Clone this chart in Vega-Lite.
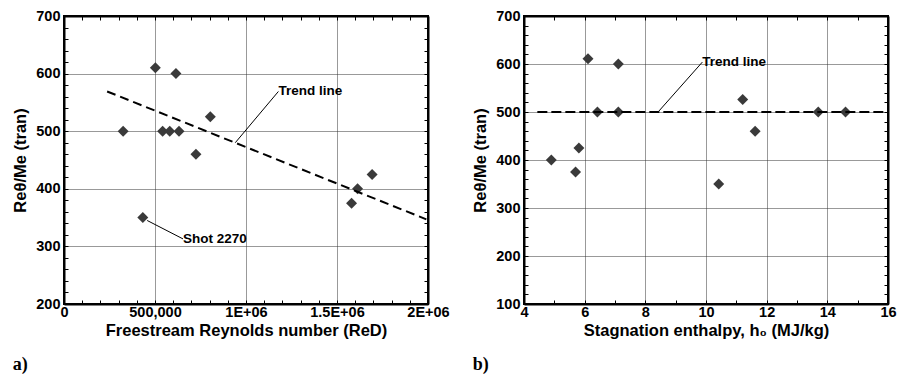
{
  "$schema": "https://vega.github.io/schema/vega-lite/v6.json",
  "padding": {"left": 11, "top": 7, "right": 5, "bottom": 0},
  "spacing": 20,
  "background": "white",
  "config": {
    "view": {"stroke": "black", "strokeWidth": 2},
    "font": "Liberation Sans",
    "axis": {
      "labelFont": "Liberation Sans", "labelFontWeight": "bold", "labelFontSize": 14.5, "labelColor": "black",
      "titleFont": "Liberation Sans", "titleFontWeight": "bold", "titleFontSize": 16.5, "titleColor": "black",
      "domainColor": "black", "domainWidth": 2, "tickColor": "black", "tickWidth": 1, "tickSize": -4,
      "gridColor": "#333", "gridDash": [1, 1], "gridWidth": 1, "labelOverlap": false, "labelFlush": false
    },
    "title": {"font": "Liberation Serif", "fontWeight": "bold", "fontSize": 18, "color": "black"}
  },
  "datasets": {
    "a_pts": [
      {"re": 325000, "v": 500}, {"re": 502000, "v": 610}, {"re": 615000, "v": 600},
      {"re": 542000, "v": 500}, {"re": 581000, "v": 500}, {"re": 632000, "v": 500},
      {"re": 725000, "v": 460}, {"re": 804000, "v": 525}, {"re": 433000, "v": 350},
      {"re": 1580000, "v": 375}, {"re": 1613000, "v": 400}, {"re": 1693000, "v": 425}
    ],
    "a_trend": [{"re": 237000, "v": 569}, {"re": 1991000, "v": 347}],
    "a_notes": [
      {"x": 941000, "y": 480, "x2": 1178000, "y2": 569, "label": "Trend line"},
      {"x": 457000, "y": 345, "x2": 654000, "y2": 313, "label": "Shot 2270"}
    ],
    "b_pts": [
      {"h": 4.9, "v": 400}, {"h": 5.7, "v": 375}, {"h": 5.81, "v": 425}, {"h": 6.11, "v": 611},
      {"h": 6.42, "v": 500}, {"h": 7.11, "v": 600}, {"h": 7.11, "v": 500}, {"h": 10.42, "v": 350},
      {"h": 11.21, "v": 526}, {"h": 11.62, "v": 460}, {"h": 13.7, "v": 500}, {"h": 14.6, "v": 500}
    ],
    "b_trend": [{"h": 4.44, "v": 500}, {"h": 16, "v": 500}],
    "b_notes": [
      {"x": 8.42, "y": 500, "x2": 9.88, "y2": 604, "label": "Trend line"}
    ]
  },
  "hconcat": [
    {
      "width": 364, "height": 288,
      "title": {"text": "a)", "orient": "bottom", "anchor": "start", "frame": "bounds", "offset": 17},
      "resolve": {"axis": {"x": "independent", "y": "independent"}},
      "layer": [
        {
          "data": {"name": "a_pts"},
          "mark": {"type": "point", "shape": "diamond", "filled": true, "size": 120, "color": "#3a3a3a", "opacity": 1},
          "encoding": {
            "x": {"field": "re", "type": "quantitative", "scale": {"domain": [0, 2000000], "nice": false},
              "title": "Freestream Reynolds number (ReD)",
              "axis": {"orient": "bottom", "values": [0,100000,200000,300000,400000,500000,600000,700000,800000,900000,1000000,1100000,1200000,1300000,1400000,1500000,1600000,1700000,1800000,1900000,2000000],
                "labelExpr": "datum.value==0?'0':datum.value==500000?'500,000':datum.value==1000000?'1E+06':datum.value==1500000?'1.5E+06':datum.value==2000000?'2E+06':''",
                "grid": true, "gridOpacity": {"condition": {"test": "datum.value % 500000 == 0", "value": 1}, "value": 0},
                "labelPadding": 5, "titlePadding": 4}},
            "y": {"field": "v", "type": "quantitative", "scale": {"domain": [200, 700], "nice": false},
              "title": "Reθ/Me (tran)",
              "axis": {"orient": "left", "values": [200,220,240,260,280,300,320,340,360,380,400,420,440,460,480,500,520,540,560,580,600,620,640,660,680,700],
                "labelExpr": "datum.value % 100 == 0 ? datum.value : ''",
                "grid": true, "gridOpacity": {"condition": {"test": "datum.value % 100 == 0", "value": 1}, "value": 0},
                "labelPadding": 8, "titlePadding": 7}}
          }
        },
        {
          "data": {"name": "a_trend"},
          "mark": {"type": "line", "color": "black", "strokeWidth": 2, "strokeDash": [9, 5]},
          "encoding": {
            "x": {"field": "re", "type": "quantitative",
              "axis": {"orient": "top", "values": [0,100000,200000,300000,400000,500000,600000,700000,800000,900000,1000000,1100000,1200000,1300000,1400000,1500000,1600000,1700000,1800000,1900000,2000000], "labels": false, "title": null, "grid": false}},
            "y": {"field": "v", "type": "quantitative",
              "axis": {"orient": "right", "values": [200,220,240,260,280,300,320,340,360,380,400,420,440,460,480,500,520,540,560,580,600,620,640,660,680,700], "labels": false, "title": null, "grid": false}}
          }
        },
        {
          "data": {"name": "a_notes"},
          "mark": {"type": "rule", "color": "black", "strokeWidth": 1},
          "encoding": {
            "x": {"field": "x", "type": "quantitative", "axis": null},
            "y": {"field": "y", "type": "quantitative", "axis": null},
            "x2": {"field": "x2"}, "y2": {"field": "y2"}
          }
        },
        {
          "data": {"name": "a_notes"},
          "mark": {"type": "text", "align": "left", "baseline": "middle", "font": "Liberation Sans", "fontWeight": "bold", "fontSize": 13.5, "color": "black"},
          "encoding": {
            "x": {"field": "x2", "type": "quantitative", "axis": null},
            "y": {"field": "y2", "type": "quantitative", "axis": null},
            "text": {"field": "label"}
          }
        }
      ]
    },
    {
      "width": 364, "height": 288,
      "title": {"text": "b)", "orient": "bottom", "anchor": "start", "frame": "bounds", "offset": 17},
      "resolve": {"axis": {"x": "independent", "y": "independent"}},
      "layer": [
        {
          "data": {"name": "b_pts"},
          "mark": {"type": "point", "shape": "diamond", "filled": true, "size": 120, "color": "#3a3a3a", "opacity": 1},
          "encoding": {
            "x": {"field": "h", "type": "quantitative", "scale": {"domain": [4, 16], "nice": false},
              "title": "Stagnation enthalpy, h₀ (MJ/kg)",
              "axis": {"orient": "bottom", "values": [4,5,6,7,8,9,10,11,12,13,14,15,16],
                "labelExpr": "datum.value % 2 == 0 ? datum.value : ''",
                "grid": true, "gridOpacity": {"condition": {"test": "datum.value % 2 == 0", "value": 1}, "value": 0},
                "labelPadding": 5, "titlePadding": 4}},
            "y": {"field": "v", "type": "quantitative", "scale": {"domain": [100, 700], "nice": false},
              "title": "Reθ/Me (tran)",
              "axis": {"orient": "left", "values": [100,120,140,160,180,200,220,240,260,280,300,320,340,360,380,400,420,440,460,480,500,520,540,560,580,600,620,640,660,680,700],
                "labelExpr": "datum.value % 100 == 0 ? datum.value : ''",
                "grid": true, "gridOpacity": {"condition": {"test": "datum.value % 100 == 0", "value": 1}, "value": 0},
                "labelPadding": 8, "titlePadding": 7}}
          }
        },
        {
          "data": {"name": "b_trend"},
          "mark": {"type": "line", "color": "black", "strokeWidth": 2, "strokeDash": [10, 4]},
          "encoding": {
            "x": {"field": "h", "type": "quantitative",
              "axis": {"orient": "top", "values": [4,5,6,7,8,9,10,11,12,13,14,15,16], "labels": false, "title": null, "grid": false}},
            "y": {"field": "v", "type": "quantitative",
              "axis": {"orient": "right", "values": [100,120,140,160,180,200,220,240,260,280,300,320,340,360,380,400,420,440,460,480,500,520,540,560,580,600,620,640,660,680,700], "labels": false, "title": null, "grid": false}}
          }
        },
        {
          "data": {"name": "b_notes"},
          "mark": {"type": "rule", "color": "black", "strokeWidth": 1},
          "encoding": {
            "x": {"field": "x", "type": "quantitative", "axis": null},
            "y": {"field": "y", "type": "quantitative", "axis": null},
            "x2": {"field": "x2"}, "y2": {"field": "y2"}
          }
        },
        {
          "data": {"name": "b_notes"},
          "mark": {"type": "text", "align": "left", "baseline": "middle", "font": "Liberation Sans", "fontWeight": "bold", "fontSize": 13.5, "color": "black"},
          "encoding": {
            "x": {"field": "x2", "type": "quantitative", "axis": null},
            "y": {"field": "y2", "type": "quantitative", "axis": null},
            "text": {"field": "label"}
          }
        }
      ]
    }
  ]
}
